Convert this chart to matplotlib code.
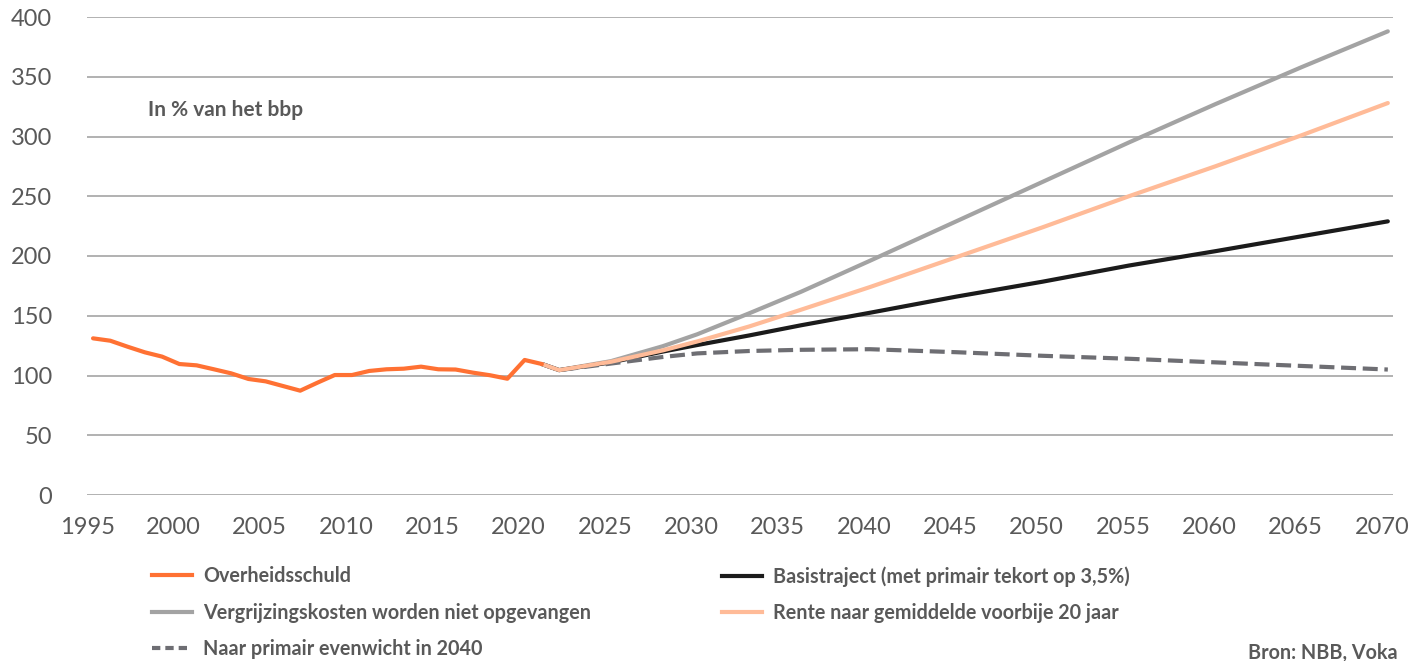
import matplotlib
matplotlib.use("Agg")
import matplotlib.pyplot as plt
import matplotlib.transforms as mtransforms
from matplotlib.lines import Line2D

plt.rcParams["font.family"] = ["Lato", "DejaVu Sans"]

# historical debt (% of GDP)
hist_years = list(range(1995, 2022))
hist_debt = [131.1, 129.1, 124.1, 119.4, 115.8, 109.6, 108.5, 105.2, 101.8,
             97.1, 95.1, 91.2, 87.3, 94.0, 100.4, 100.4, 103.8, 105.2, 105.7,
             107.4, 105.2, 105.0, 102.4, 100.2, 97.3, 113.0, 109.6]

# projections
proj_years = [2021, 2022, 2025, 2028, 2030, 2033, 2036, 2040, 2045, 2050, 2055, 2060, 2065, 2070]
basis = [109.6, 104.5, 111.0, 120.0, 125.5, 133.5, 142.0, 152.5, 166.0, 178.5, 192.0, 204.0, 216.5, 229.0]
vergrijzing = [109.6, 104.5, 112.0, 124.5, 134.5, 152.0, 170.0, 196.0, 229.0, 262.0, 295.0, 327.0, 358.0, 388.0]
rente = [109.6, 104.5, 111.5, 121.0, 128.5, 141.0, 155.0, 174.0, 199.0, 224.0, 250.0, 275.0, 301.0, 328.0]
evenwicht = [109.6, 104.5, 110.0, 115.5, 118.5, 120.5, 121.5, 122.0, 119.5, 116.5, 114.0, 111.0, 108.0, 105.0]

labels = {
    "hist": "Overheidsschuld",
    "basis": "Basistraject (met primair tekort op 3,5%)",
    "vergr": "Vergrijzingskosten worden niet opgevangen",
    "rente": "Rente naar gemiddelde voorbije 20 jaar",
    "even": "Naar primair evenwicht in 2040",
}

C_HIST = "#FF7133"
C_BASIS = "#1B1B1B"
C_VERGR = "#A3A3A3"
C_RENTE = "#FFBB98"
C_EVEN = "#6E6E73"
C_TEXT = "#595959"
C_GRID = "#ABABAB"

W, H = 1418, 661
fig = plt.figure(figsize=(W / 100, H / 100), dpi=100)
ax = fig.add_axes([87 / W, 1 - 495 / H, (1393 - 87) / W, (495 - 17) / H])

lw = 3.0
ax.plot(proj_years, vergrijzing, color=C_VERGR, lw=lw, solid_capstyle="round", zorder=3)
ax.plot(proj_years, basis, color=C_BASIS, lw=lw, solid_capstyle="round", zorder=4)
ax.plot(proj_years, evenwicht, color=C_EVEN, lw=lw, dashes=(3.6, 1.6), zorder=5)
ax.plot(proj_years, rente, color=C_RENTE, lw=lw, solid_capstyle="round", zorder=6)
ax.plot(hist_years, hist_debt, color=C_HIST, lw=lw, solid_capstyle="round", zorder=7)

ax.set_xlim(1994.65, 2070.3)
ax.set_ylim(0, 400)
ax.set_yticks(range(0, 401, 50))
ax.set_xticks(range(1995, 2071, 5))
ax.yaxis.grid(True, color=C_GRID, lw=1.3)
ax.set_axisbelow(True)
for s in ax.spines.values():
    s.set_visible(False)
ax.tick_params(axis="both", length=0, labelsize=17, labelcolor=C_TEXT)
ax.tick_params(axis="y", pad=25)
ax.tick_params(axis="x", pad=16)
for lab in ax.get_yticklabels():
    lab.set_horizontalalignment("right")
shift = mtransforms.ScaledTranslation(-6 / 100, 0, fig.dpi_scale_trans)
for lab in ax.get_xticklabels():
    lab.set_transform(lab.get_transform() + shift)

fig.text(148 / W, 1 - 110 / H, "In % van het bbp", fontsize=15, fontweight="bold",
         color=C_TEXT, va="center", ha="left")

def handle(color, dashed=False):
    if dashed:
        return Line2D([], [], color=color, lw=lw, dashes=(2.0, 1.2))
    return Line2D([], [], color=color, lw=lw)

leg_size = 14.2
leg_kw = dict(frameon=False, handlelength=2.05, handletextpad=0.55,
              labelspacing=0.84, borderpad=0, borderaxespad=0, labelcolor=C_TEXT,
              prop={"weight": "bold", "size": leg_size})
leg1 = fig.legend([handle(C_HIST), handle(C_VERGR), handle(C_EVEN, True)],
                  [labels["hist"], labels["vergr"], labels["even"]],
                  loc="upper left", bbox_to_anchor=(152 / W, 1 - 566 / H), **leg_kw)
leg2 = fig.legend([handle(C_BASIS), handle(C_RENTE)],
                  [labels["basis"], labels["rente"]],
                  loc="upper left", bbox_to_anchor=(722 / W, 1 - 566 / H), **leg_kw)

fig.text(1248 / W, 2 / H, "Bron: NBB, Voka", fontsize=leg_size, fontweight="bold",
         color=C_TEXT, va="baseline", ha="left")

fig.savefig("out.png", dpi=100)
